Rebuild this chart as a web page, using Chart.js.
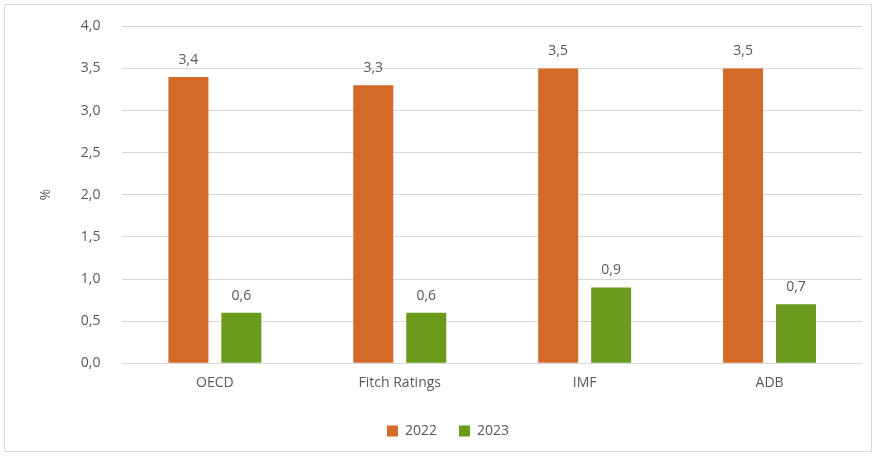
<!DOCTYPE html>
<html>
<head>
<meta charset="utf-8">
<script src="https://cdn.jsdelivr.net/npm/chart.js@4.4.0/dist/chart.umd.min.js"></script>
<style>
    html, body { margin: 0; padding: 0; background: #fff; overflow: hidden; }
    #marco { position: absolute; left: 4px; top: 4px; width: 868px; height: 448px; border: 1px solid #d9d9d9; box-sizing: border-box; }
    #wrap { position: absolute; left: 4px; top: -4px; width: 868px; height: 456px; }
    canvas { display: block; }
</style>
</head>
<body>
<div id="marco"></div>
<div id="wrap"><canvas id="myChart"></canvas></div>
<script>
const categorias = ['OECD', 'Fitch Ratings', 'IMF', 'ADB'];
const valores2022 = [3.4, 3.3, 3.5, 3.5];
const valores2023 = [0.6, 0.6, 0.9, 0.7];
const series = ['2022', '2023'];

const coma = (v) => v.toFixed(1).replace('.', ',');

// etiquetas de valor encima de cada barra
const etiquetas = {
    id: 'etiquetas',
    afterDatasetsDraw(chart) {
        const c = chart.ctx;
        c.save();
        c.font = '14px "Open Sans", sans-serif';
        c.fillStyle = '#595959';
        c.textAlign = 'center';
        c.textBaseline = 'bottom';
        chart.data.datasets.forEach((ds, i) => {
            chart.getDatasetMeta(i).data.forEach((bar, j) => {
                c.fillText(coma(ds.data[j]), bar.x, bar.y - 10);
            });
        });
        c.restore();
    }
};

const ctx = document.getElementById('myChart').getContext('2d');
const myChart = new Chart(ctx, {
    type: 'bar',
    data: {
        labels: categorias,
        datasets: [{
            label: series[0],
            data: valores2022,
            backgroundColor: '#d46a28',
            barPercentage: 0.755,
            categoryPercentage: 0.573
        }, {
            label: series[1],
            data: valores2023,
            backgroundColor: '#6b9a1c',
            barPercentage: 0.755,
            categoryPercentage: 0.573
        }]
    },
    options: {
        responsive: true,
        maintainAspectRatio: false,
        animation: false,
        layout: { padding: { left: 30, right: 10, top: 6, bottom: 4 } },
        scales: {
            x: {
                grid: { display: false },
                border: { display: false },
                ticks: { color: '#595959', font: { size: 14, family: '"Open Sans", sans-serif' }, padding: 3 },
                afterFit: (scale) => { scale.height += 8; }
            },
            y: {
                min: 0,
                max: 4,
                ticks: {
                    stepSize: 0.5,
                    color: '#595959',
                    font: { size: 14, family: '"Open Sans", sans-serif' },
                    padding: 22,
                    callback: (v) => coma(v)
                },
                grid: { color: '#d9d9d9', drawTicks: false },
                border: { display: false },
                title: { display: true, text: '%', color: '#595959', font: { size: 14, family: '"Open Sans", sans-serif' } }
            }
        },
        plugins: {
            legend: {
                position: 'bottom',
                labels: { boxWidth: 11, boxHeight: 11, color: '#595959', font: { size: 14, family: '"Open Sans", sans-serif' }, padding: 22 }
            },
            tooltip: { enabled: false }
        }
    },
    plugins: [etiquetas]
});
</script>
</body>
</html>
